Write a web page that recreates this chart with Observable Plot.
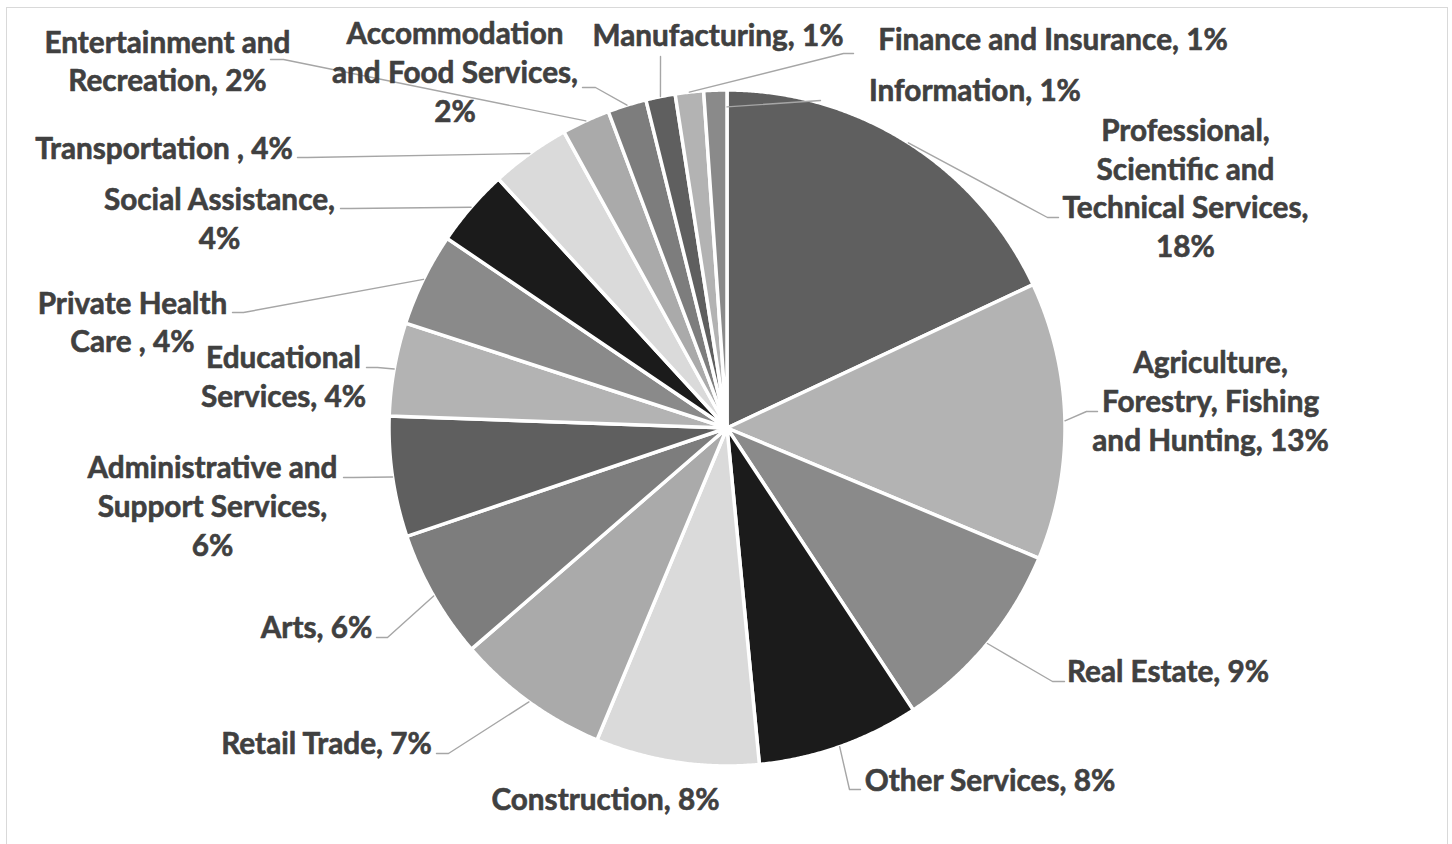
<!DOCTYPE html>
<html>
<head>
<meta charset="utf-8">
<script src="https://cdn.jsdelivr.net/npm/d3@7"></script>
<script src="https://cdn.jsdelivr.net/npm/@observablehq/plot@0.6"></script>
<style>
  html, body { margin: 0; padding: 0; background: #fff; overflow: hidden; }
  #wrap { position: relative; width: 1452px; height: 844px; }
  #frame { position: absolute; left: 6px; top: 7px; width: 1442px; height: 880px;
           border: 1.5px solid #d9d9d9; box-sizing: border-box; pointer-events: none; }
  #chart { position: absolute; left: 0; top: 0; }
</style>
</head>
<body>
<div id="wrap"><div id="chart"></div><div id="frame"></div></div>
<script>
// ---- data ----
const categories = [
  "Professional, Scientific and Technical Services",
  "Agriculture, Forestry, Fishing and Hunting",
  "Real Estate",
  "Other Services",
  "Construction",
  "Retail Trade",
  "Arts",
  "Administrative and Support Services",
  "Educational Services",
  "Private Health Care",
  "Social Assistance",
  "Transportation",
  "Entertainment and Recreation",
  "Accommodation and Food Services",
  "Manufacturing",
  "Finance and Insurance",
  "Information"
];
const values = [18.0, 13.25, 9.4, 7.75, 7.8, 7.35, 6.15, 5.75, 4.45, 4.45, 3.7, 3.8, 2.3, 1.85, 1.4, 1.35, 1.1];
const labels = [
  "Professional,\nScientific and\nTechnical Services,\n18%",
  "Agriculture,\nForestry, Fishing\nand Hunting, 13%",
  "Real Estate, 9%",
  "Other Services, 8%",
  "Construction, 8%",
  "Retail Trade, 7%",
  "Arts, 6%",
  "Administrative and\nSupport Services,\n6%",
  "Educational\nServices, 4%",
  "Private Health\nCare , 4%",
  "Social Assistance,\n4%",
  "Transportation , 4%",
  "Entertainment and\nRecreation, 2%",
  "Accommodation\nand Food Services,\n2%",
  "Manufacturing, 1%",
  "Finance and Insurance, 1%",
  "Information, 1%"
];

// ---- style / layout (in pie-radius units, centre = 0,0, y downward) ----
const palette = ["#5f5f5f", "#b3b3b3", "#8a8a8a", "#1b1b1b", "#dadada", "#aaaaaa", "#7d7d7d"];
const labelPos = [
  [1.3565, -0.7086], [1.4305, -0.0784], [1.3047, 0.7204], [0.7781, 1.0429],
  [-0.3595, 1.0991], [-1.1849, 0.9334], [-1.2145, 0.5902], [-1.5222, 0.2322],
  [-1.3121, -0.1509], [-1.7589, -0.3121], [-1.5015, -0.6183], [-1.6657, -0.8269],
  [-1.6553, -1.0843], [-0.8047, -1.0518], [-0.0266, -1.1612], [0.9645, -1.1494],
  [0.7337, -0.9985]
];
const leaderBends = [
  [[0.9482, -0.6228], [0.9808, -0.6228]],
  [[1.0636, -0.0488], [1.0962, -0.0488]],
  [[0.9630, 0.7500], [0.9985, 0.7500]],
  [[0.3624, 1.0695], [0.3950, 1.0695]],
  null,
  [[-0.8240, 0.9630], [-0.8595, 0.9630]],
  [[-1.0044, 0.6198], [-1.0370, 0.6198]],
  [[-1.1050, 0.1464], [-1.1346, 0.1464]],
  [[-1.0340, -0.1790], [-1.0666, -0.1790]],
  [[-1.4305, -0.3417], [-1.4630, -0.3417]],
  [[-1.1139, -0.6494], [-1.1435, -0.6494]],
  [[-1.2411, -0.8003], [-1.2707, -0.8003]],
  [[-1.3121, -1.0902], [-1.3506, -1.0902]],
  [[-0.3891, -1.0074], [-0.4275, -1.0074]],
  [[-0.1967, -1.0991]],
  [[0.3447, -1.1080], [0.3743, -1.1080]],
  [[0.2766, -0.9689]]
];
// leader start radius (Information's leader starts slightly inside the pie in the original)
const leaderStartR = labels.map((d, i) => i === 16 ? 0.95 : 1);

const W = 1452, H = 844;
const CX = 726.5, CY = 427.5, R = 338;

// font size fitted so that label widths match the original
const FONT = "Lato, 'Open Sans', 'DejaVu Sans', sans-serif";
const ctx = document.createElement("canvas").getContext("2d");
ctx.font = `bold 28px ${FONT}`;
const fontSize = 28 * 250 / ctx.measureText("Administrative and").width;
const lineHeight = 38.7 / fontSize;

// ---- geometry from data ----
const arcs = d3.pie().sort(null).value(d => d)(values);
const sliceRows = [];
arcs.forEach((a, i) => {
  const cat = categories[i];
  const color = palette[i % palette.length];
  sliceRows.push({cat, x: 0, y: 0, color});
  const n = Math.max(4, Math.ceil((a.endAngle - a.startAngle) / 0.005));
  for (let k = 0; k <= n; ++k) {
    const t = a.startAngle + (a.endAngle - a.startAngle) * k / n;
    sliceRows.push({cat, x: Math.sin(t), y: -Math.cos(t), color});
  }
});

const leaderRows = [];
arcs.forEach((a, i) => {
  if (!leaderBends[i]) return;
  const mid = i === 16 ? a.endAngle : (a.startAngle + a.endAngle) / 2;
  const r0 = leaderStartR[i];
  leaderRows.push({cat: categories[i], x: r0 * Math.sin(mid), y: -r0 * Math.cos(mid)});
  for (const [x, y] of leaderBends[i]) leaderRows.push({cat: categories[i], x, y});
});

const labelRows = labels.map((text, i) => ({text, x: labelPos[i][0], y: labelPos[i][1]}));

const chart = Plot.plot({
  width: W,
  height: H,
  margin: 0,
  style: {background: "transparent", overflow: "visible"},
  x: {domain: [-CX / R, (W - CX) / R], range: [0, W], axis: null},
  y: {domain: [-CY / R, (H - CY) / R], range: [0, H], axis: null},
  color: {type: "identity"},
  marks: [
    Plot.line(sliceRows, {
      x: "x", y: "y", z: "cat", fill: "color",
      stroke: "#ffffff", strokeWidth: 3.5, strokeLinejoin: "miter", strokeMiterlimit: 2,
      curve: "linear-closed"
    }),
    Plot.line(leaderRows, {
      x: "x", y: "y", z: "cat",
      stroke: "#a6a6a6", strokeWidth: 1.4, curve: "linear"
    }),
    Plot.text(labelRows, {
      x: "x", y: "y", text: "text", dy: -2,
      textAnchor: "middle", lineAnchor: "middle", lineHeight,
      fontSize, fontWeight: "bold", fontFamily: FONT, fill: "#404040",
      stroke: "#404040", strokeWidth: 0.6
    })
  ]
});
document.getElementById("chart").appendChild(chart);
</script>
</body>
</html>
